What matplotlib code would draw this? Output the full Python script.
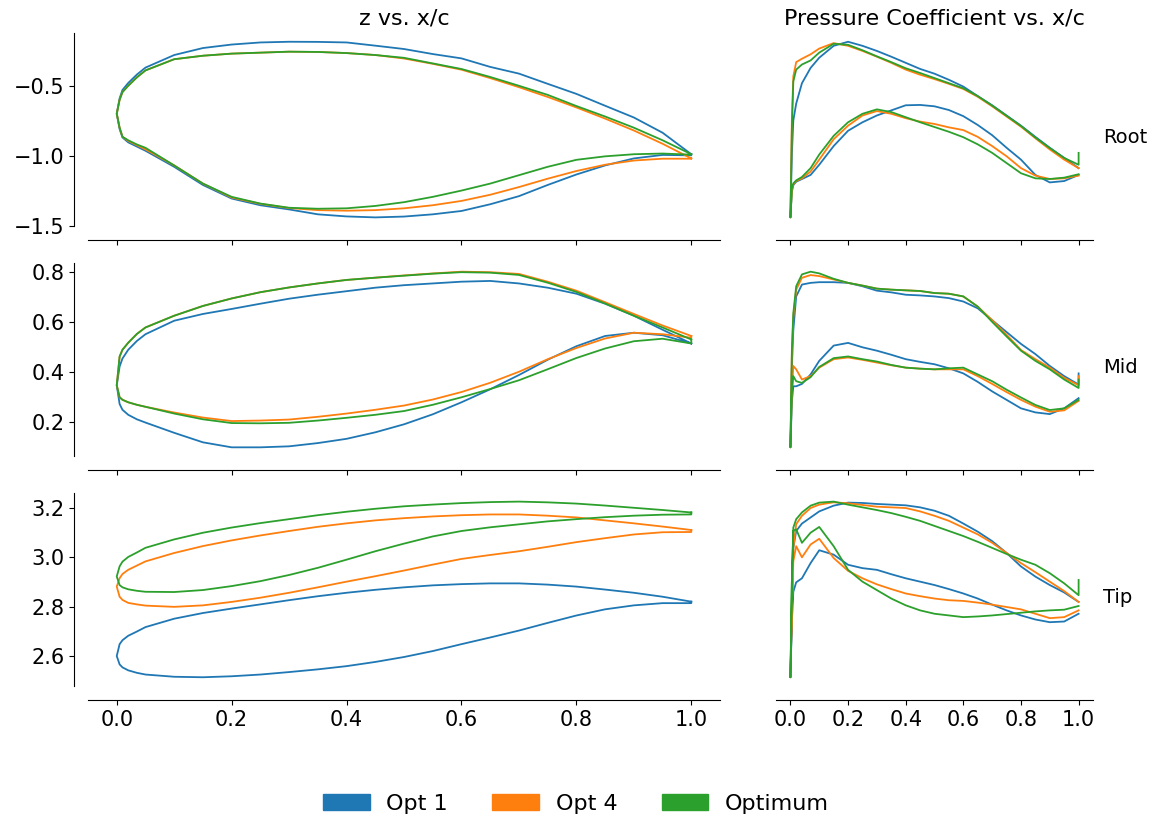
import matplotlib
matplotlib.use('Agg')
import matplotlib.pyplot as plt
from matplotlib.patches import Patch

# series names / colours
series = ['Opt 1', 'Opt 4', 'Optimum']
colors = ['#1f77b4', '#ff7f0e', '#2ca02c']
rows = ['Root', 'Mid', 'Tip']

# chordwise stations for the section shapes
x_z = [0, 0.005, 0.01, 0.02, 0.035, 0.05, 0.1, 0.15, 0.2, 0.25, 0.3, 0.35, 0.4,
       0.45, 0.5, 0.55, 0.6, 0.65, 0.7, 0.75, 0.8, 0.85, 0.9, 0.95, 1.0]

# --- z vs x/c, upper and lower surfaces ---
root_up_opt1 = [-0.70, -0.59, -0.53, -0.48, -0.42, -0.37, -0.28, -0.23, -0.205, -0.19, -0.185, -0.186, -0.19,
                -0.213, -0.237, -0.273, -0.304, -0.365, -0.413, -0.486, -0.558, -0.643, -0.727, -0.836, -0.99]
root_up_opt4 = [-0.70, -0.60, -0.545, -0.50, -0.44, -0.39, -0.31, -0.285, -0.27, -0.263, -0.256, -0.258, -0.266,
                -0.28, -0.305, -0.343, -0.385, -0.445, -0.51, -0.58, -0.655, -0.735, -0.82, -0.915, -1.02]
root_up_optimum = [-0.70, -0.60, -0.545, -0.50, -0.44, -0.39, -0.31, -0.285, -0.27, -0.263, -0.256, -0.258, -0.266,
                   -0.28, -0.30, -0.34, -0.38, -0.437, -0.50, -0.565, -0.645, -0.72, -0.80, -0.89, -0.99]
root_lo_opt1 = [-0.70, -0.81, -0.87, -0.905, -0.935, -0.965, -1.08, -1.21, -1.307, -1.355, -1.385, -1.42, -1.435,
                -1.442, -1.436, -1.42, -1.396, -1.348, -1.29, -1.21, -1.135, -1.07, -1.02, -0.995, -0.998]
root_lo_opt4 = [-0.70, -0.80, -0.865, -0.895, -0.925, -0.955, -1.07, -1.20, -1.30, -1.345, -1.375, -1.39, -1.394,
                -1.39, -1.377, -1.355, -1.324, -1.28, -1.225, -1.165, -1.11, -1.065, -1.035, -1.022, -1.022]
root_lo_optimum = [-0.70, -0.80, -0.865, -0.89, -0.92, -0.944, -1.07, -1.20, -1.295, -1.343, -1.373, -1.38, -1.377,
                   -1.36, -1.333, -1.295, -1.25, -1.20, -1.14, -1.08, -1.03, -1.005, -0.99, -0.985, -0.993]

mid_up_opt1 = [0.348, 0.423, 0.455, 0.49, 0.525, 0.552, 0.606, 0.633, 0.653, 0.674, 0.694, 0.71, 0.724,
               0.738, 0.748, 0.755, 0.762, 0.765, 0.755, 0.738, 0.714, 0.674, 0.626, 0.57, 0.515]
mid_up_opt4 = [0.348, 0.463, 0.49, 0.518, 0.553, 0.579, 0.626, 0.665, 0.695, 0.72, 0.739, 0.755, 0.769,
               0.778, 0.787, 0.795, 0.802, 0.80, 0.793, 0.762, 0.726, 0.68, 0.633, 0.587, 0.545]
mid_up_optimum = [0.348, 0.463, 0.49, 0.518, 0.553, 0.579, 0.626, 0.665, 0.695, 0.72, 0.739, 0.755, 0.769,
                  0.778, 0.786, 0.794, 0.80, 0.798, 0.789, 0.758, 0.721, 0.675, 0.626, 0.579, 0.531]
mid_lo_opt1 = [0.348, 0.273, 0.25, 0.23, 0.212, 0.199, 0.158, 0.12, 0.10, 0.10, 0.104, 0.117, 0.134,
               0.16, 0.192, 0.232, 0.28, 0.332, 0.389, 0.45, 0.504, 0.545, 0.558, 0.548, 0.515]
mid_lo_opt4 = [0.348, 0.30, 0.29, 0.28, 0.27, 0.262, 0.239, 0.219, 0.205, 0.207, 0.211, 0.222, 0.235,
               0.25, 0.267, 0.291, 0.321, 0.358, 0.402, 0.452, 0.497, 0.535, 0.558, 0.552, 0.538]
mid_lo_optimum = [0.348, 0.30, 0.29, 0.28, 0.27, 0.262, 0.235, 0.212, 0.197, 0.196, 0.198, 0.207, 0.218,
                  0.23, 0.245, 0.27, 0.30, 0.333, 0.368, 0.412, 0.457, 0.495, 0.524, 0.534, 0.515]

tip_up_opt1 = [2.601, 2.649, 2.665, 2.683, 2.70, 2.718, 2.752, 2.775, 2.793, 2.81, 2.827, 2.843, 2.857,
               2.869, 2.879, 2.887, 2.892, 2.895, 2.895, 2.89, 2.882, 2.87, 2.857, 2.841, 2.821]
tip_up_opt4 = [2.882, 2.916, 2.933, 2.95, 2.967, 2.984, 3.018, 3.046, 3.069, 3.089, 3.107, 3.124, 3.138,
               3.15, 3.159, 3.166, 3.171, 3.174, 3.174, 3.169, 3.162, 3.15, 3.138, 3.125, 3.111]
tip_up_optimum = [2.923, 2.964, 2.983, 3.002, 3.02, 3.039, 3.073, 3.10, 3.121, 3.139, 3.155, 3.171, 3.185,
                  3.197, 3.207, 3.214, 3.22, 3.224, 3.226, 3.223, 3.218, 3.21, 3.201, 3.192, 3.182]
tip_lo_opt1 = [2.601, 2.567, 2.555, 2.543, 2.533, 2.526, 2.517, 2.515, 2.519, 2.526, 2.536, 2.547, 2.56,
               2.577, 2.597, 2.621, 2.649, 2.676, 2.704, 2.735, 2.765, 2.79, 2.806, 2.815, 2.815]
tip_lo_opt4 = [2.882, 2.841, 2.828, 2.816, 2.81, 2.805, 2.80, 2.806, 2.82, 2.837, 2.857, 2.879, 2.902,
               2.924, 2.947, 2.971, 2.994, 3.01, 3.025, 3.043, 3.062, 3.078, 3.093, 3.102, 3.103]
tip_lo_optimum = [2.923, 2.888, 2.879, 2.871, 2.865, 2.861, 2.86, 2.868, 2.884, 2.904, 2.929, 2.958, 2.991,
                  3.025, 3.056, 3.085, 3.107, 3.122, 3.134, 3.146, 3.155, 3.163, 3.169, 3.173, 3.174]

# chordwise stations for the pressure distributions
x_cp = [0, 0.005, 0.01, 0.02, 0.04, 0.07, 0.1, 0.15, 0.2, 0.25, 0.3, 0.35, 0.4,
        0.45, 0.5, 0.55, 0.6, 0.65, 0.7, 0.75, 0.8, 0.85, 0.9, 0.95, 1.0]

# --- -Cp vs x/c (suction side "cpu", pressure side "cpl") ---
root_cpu_opt1 = [-1.0, -0.075, 0.425, 0.675, 0.975, 1.2, 1.35, 1.525, 1.585, 1.525, 1.45, 1.365, 1.275,
                 1.185, 1.115, 1.025, 0.925, 0.785, 0.65, 0.50, 0.35, 0.185, 0.025, -0.125, -0.275]
root_cpu_opt4 = [-1.0, 0.425, 1.075, 1.285, 1.335, 1.40, 1.485, 1.565, 1.525, 1.45, 1.365, 1.275, 1.175,
                 1.10, 1.035, 0.965, 0.89, 0.775, 0.635, 0.485, 0.335, 0.165, 0.0, -0.15, -0.275]
root_cpu_optimum = [-1.0, 0.30, 1.0, 1.175, 1.25, 1.31, 1.425, 1.555, 1.54, 1.46, 1.37, 1.285, 1.195,
                    1.125, 1.05, 0.975, 0.90, 0.785, 0.645, 0.495, 0.345, 0.175, 0.02, -0.125, -0.225]
root_cpl_opt1 = [-1.0, -0.625, -0.525, -0.475, -0.435, -0.375, -0.225, 0.05, 0.275, 0.40, 0.50, 0.575, 0.65,
                 0.655, 0.635, 0.58, 0.49, 0.36, 0.21, 0.025, -0.15, -0.375, -0.485, -0.465, -0.375]
root_cpl_opt4 = [-1.0, -0.60, -0.515, -0.465, -0.425, -0.325, -0.15, 0.15, 0.35, 0.50, 0.565, 0.525, 0.46,
                 0.41, 0.375, 0.325, 0.285, 0.185, 0.05, -0.10, -0.275, -0.385, -0.435, -0.425, -0.385]
root_cpl_optimum = [-1.0, -0.575, -0.50, -0.455, -0.405, -0.275, -0.075, 0.20, 0.40, 0.525, 0.59, 0.55, 0.475,
                    0.40, 0.33, 0.26, 0.18, 0.075, -0.05, -0.20, -0.35, -0.425, -0.435, -0.415, -0.365]
root_cp_te = [-0.275, -0.275, -0.05]

mid_cpu_opt1 = [-1.0, 0.175, 0.725, 1.225, 1.40, 1.425, 1.435, 1.435, 1.425, 1.375, 1.31, 1.285, 1.25,
                1.24, 1.225, 1.20, 1.15, 1.05, 0.875, 0.70, 0.525, 0.375, 0.20, 0.05, -0.075]
mid_cpu_opt4 = [-1.0, 0.375, 0.925, 1.325, 1.50, 1.54, 1.525, 1.475, 1.425, 1.385, 1.34, 1.325, 1.315,
                1.305, 1.275, 1.265, 1.225, 1.075, 0.875, 0.66, 0.435, 0.30, 0.175, 0.025, -0.085]
mid_cpu_optimum = [-1.0, 0.425, 0.975, 1.375, 1.55, 1.59, 1.565, 1.485, 1.425, 1.385, 1.34, 1.325, 1.315,
                   1.305, 1.275, 1.265, 1.225, 1.075, 0.85, 0.635, 0.425, 0.275, 0.15, 0.0, -0.125]
mid_cpl_opt1 = [-1.0, -0.325, -0.10, -0.10, -0.065, 0.075, 0.275, 0.50, 0.54, 0.475, 0.425, 0.365, 0.30,
                0.26, 0.225, 0.165, 0.09, -0.035, -0.175, -0.30, -0.425, -0.485, -0.51, -0.425, -0.275]
mid_cpl_opt4 = [-1.0, -0.175, 0.20, 0.15, 0.0, 0.05, 0.175, 0.30, 0.325, 0.29, 0.25, 0.21, 0.175,
                0.16, 0.15, 0.15, 0.15, 0.05, -0.065, -0.185, -0.30, -0.40, -0.475, -0.455, -0.315]
mid_cpl_optimum = [-1.0, -0.175, 0.05, -0.025, -0.05, 0.035, 0.185, 0.315, 0.34, 0.30, 0.265, 0.215, 0.175,
                   0.16, 0.15, 0.165, 0.175, 0.075, -0.025, -0.15, -0.265, -0.375, -0.45, -0.425, -0.30]
mid_cp_te = [0.09, 0.05, 0.0]

tip_cpu_opt1 = [-1.0, -0.085, 0.915, 1.165, 1.275, 1.365, 1.455, 1.54, 1.585, 1.58, 1.565, 1.555, 1.545,
                1.515, 1.465, 1.39, 1.275, 1.155, 1.015, 0.84, 0.64, 0.49, 0.365, 0.255, 0.115]
tip_cpu_opt4 = [-1.0, 0.015, 0.915, 1.265, 1.39, 1.505, 1.555, 1.59, 1.575, 1.55, 1.525, 1.515, 1.505,
                1.455, 1.39, 1.315, 1.215, 1.115, 0.99, 0.84, 0.69, 0.555, 0.415, 0.275, 0.115]
tip_cpu_optimum = [-1.0, 0.415, 1.215, 1.34, 1.44, 1.54, 1.585, 1.60, 1.555, 1.515, 1.475, 1.43, 1.375,
                   1.315, 1.24, 1.165, 1.09, 1.005, 0.915, 0.825, 0.74, 0.665, 0.54, 0.39, 0.215]
tip_cpl_opt1 = [-1.0, -0.185, 0.265, 0.405, 0.465, 0.69, 0.88, 0.815, 0.665, 0.615, 0.59, 0.525, 0.465,
                0.415, 0.365, 0.305, 0.24, 0.165, 0.075, -0.01, -0.085, -0.145, -0.185, -0.175, -0.06]
tip_cpl_opt4 = [-1.0, 0.015, 0.715, 0.94, 0.775, 0.965, 1.05, 0.765, 0.575, 0.465, 0.375, 0.305, 0.24,
                0.20, 0.165, 0.14, 0.13, 0.105, 0.075, 0.04, 0.005, -0.06, -0.125, -0.11, -0.01]
tip_cpl_optimum = [-1.0, 0.415, 1.165, 1.19, 0.99, 1.14, 1.225, 0.94, 0.59, 0.415, 0.29, 0.165, 0.065,
                   -0.01, -0.06, -0.085, -0.11, -0.10, -0.085, -0.065, -0.045, -0.025, -0.01, 0.0, 0.055]
tip_cp_te = [0.115, 0.115, 0.44]

z_upper = [[root_up_opt1, root_up_opt4, root_up_optimum],
           [mid_up_opt1, mid_up_opt4, mid_up_optimum],
           [tip_up_opt1, tip_up_opt4, tip_up_optimum]]
z_lower = [[root_lo_opt1, root_lo_opt4, root_lo_optimum],
           [mid_lo_opt1, mid_lo_opt4, mid_lo_optimum],
           [tip_lo_opt1, tip_lo_opt4, tip_lo_optimum]]
cp_upper = [[root_cpu_opt1, root_cpu_opt4, root_cpu_optimum],
            [mid_cpu_opt1, mid_cpu_opt4, mid_cpu_optimum],
            [tip_cpu_opt1, tip_cpu_opt4, tip_cpu_optimum]]
cp_lower = [[root_cpl_opt1, root_cpl_opt4, root_cpl_optimum],
            [mid_cpl_opt1, mid_cpl_opt4, mid_cpl_optimum],
            [tip_cpl_opt1, tip_cpl_opt4, tip_cpl_optimum]]
cp_te = [root_cp_te, mid_cp_te, tip_cp_te]

fig = plt.figure(figsize=(11.52, 8.14), dpi=100)
gs = fig.add_gridspec(3, 2, width_ratios=[632, 317], left=0.0764, right=0.9488,
                      top=0.9595, bottom=0.1572, wspace=0.118, hspace=0.19)

axes = []
for r in range(3):
    row_axes = []
    for c in range(2):
        share = axes[0][c] if r > 0 else None
        ax = fig.add_subplot(gs[r, c], sharex=share)
        row_axes.append(ax)
    axes.append(row_axes)

for r in range(3):
    ax_z, ax_cp = axes[r]
    for k in range(3):
        # closed section outline: TE upper -> LE -> TE lower -> back to TE upper
        xs = x_z[::-1] + x_z[1:] + [x_z[-1]]
        zs = z_upper[r][k][::-1] + z_lower[r][k][1:] + [z_upper[r][k][-1]]
        ax_z.plot(xs, zs, color=colors[k], lw=1.3)

        # pressure loop, starting with the small trailing-edge spike
        xc = [x_cp[-1]] + x_cp[::-1] + x_cp[1:]
        cs = [cp_te[r][k]] + cp_upper[r][k][::-1] + cp_lower[r][k][1:]
        ax_cp.plot(xc, cs, color=colors[k], lw=1.3)

    # section shape axes
    ax_z.spines['top'].set_visible(False)
    ax_z.spines['right'].set_visible(False)
    ax_z.spines['left'].set_position(('outward', 10))
    ax_z.spines['bottom'].set_position(('outward', 10))
    ax_z.tick_params(labelsize=15)

    # pressure axes
    ax_cp.spines['top'].set_visible(False)
    ax_cp.spines['right'].set_visible(False)
    ax_cp.spines['left'].set_visible(False)
    ax_cp.spines['bottom'].set_position(('outward', 10))
    ax_cp.set_yticks([])
    ax_cp.tick_params(labelsize=15)
    ax_cp.text(1.032, 0.46, rows[r], transform=ax_cp.transAxes,
               fontsize=14, va='center', ha='left')

    if r < 2:
        ax_z.tick_params(labelbottom=False)
        ax_cp.tick_params(labelbottom=False)

axes[0][0].set_xticks([0.0, 0.2, 0.4, 0.6, 0.8, 1.0])
axes[0][1].set_xticks([0.0, 0.2, 0.4, 0.6, 0.8, 1.0])
axes[0][0].set_yticks([-0.5, -1.0, -1.5])
axes[1][0].set_yticks([0.2, 0.4, 0.6, 0.8])
axes[2][0].set_yticks([2.6, 2.8, 3.0, 3.2])

axes[0][0].set_title('z vs. x/c', fontsize=16)
axes[0][1].set_title('Pressure Coefficient vs. x/c', fontsize=16)

handles = [Patch(color=colors[k], label=series[k]) for k in range(3)]
fig.legend(handles=handles, loc='lower center', bbox_to_anchor=(0.5, -0.024),
           ncol=3, frameon=False, fontsize=16, handlelength=2.1, handleheight=0.75,
           handletextpad=0.75, columnspacing=2.0)

plt.savefig('out.png', dpi=100)
